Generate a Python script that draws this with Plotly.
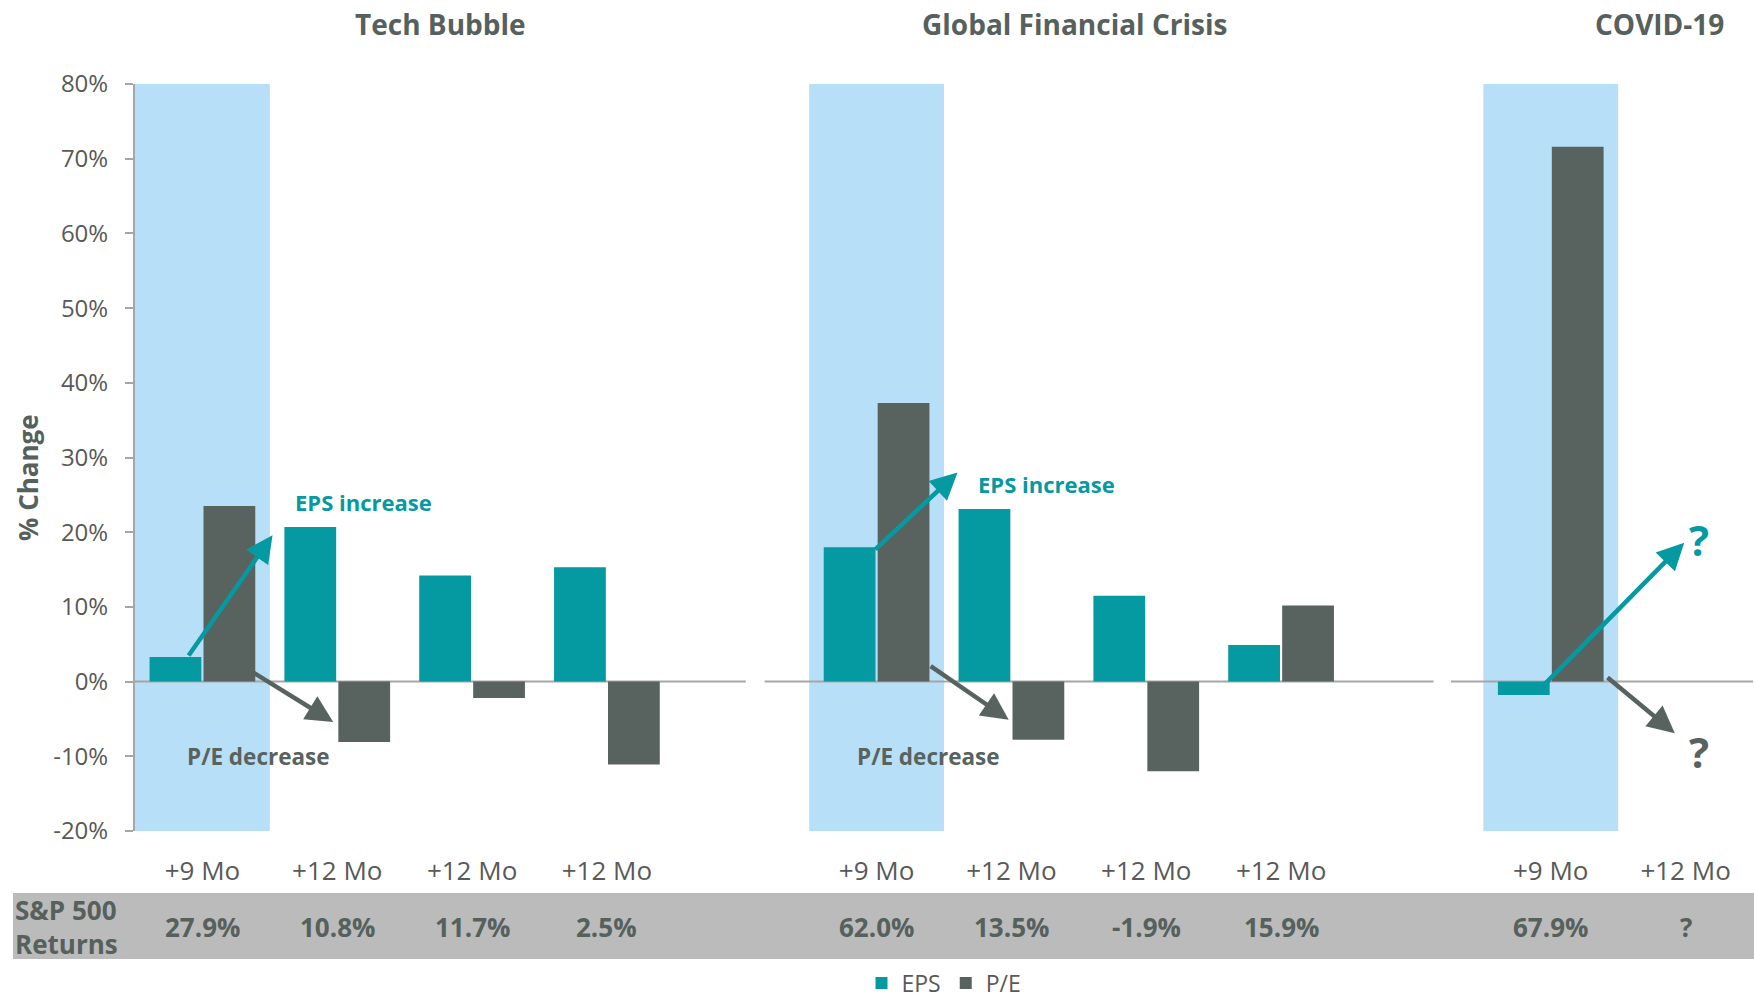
import plotly.graph_objects as go

# ---------------- data ----------------
panel_titles = ["Tech Bubble", "Global Financial Crisis", "COVID-19"]

tech_periods = ["+9 Mo", "+12 Mo", "+12 Mo", "+12 Mo"]
tech_eps = [3.3, 20.7, 14.2, 15.3]
tech_pe = [23.5, -8.1, -2.2, -11.1]
tech_sp500 = ["27.9%", "10.8%", "11.7%", "2.5%"]

gfc_periods = ["+9 Mo", "+12 Mo", "+12 Mo", "+12 Mo"]
gfc_eps = [18.0, 23.1, 11.5, 4.9]
gfc_pe = [37.3, -7.8, -12.0, 10.2]
gfc_sp500 = ["62.0%", "13.5%", "-1.9%", "15.9%"]

covid_periods = ["+9 Mo", "+12 Mo"]
covid_eps = [-1.8, None]
covid_pe = [71.6, None]
covid_sp500 = ["67.9%", "?"]

y_ticks = [-20, -10, 0, 10, 20, 30, 40, 50, 60, 70, 80]
y_tick_labels = [f"{v}%" for v in y_ticks]

# ---------------- styling ----------------
TEAL = "#0599a1"
DARK = "#58635f"
BAND = "#b8dff8"
AXIS = "#a6a6a6"
TXT = "#595959"
HEAD = "#56605d"
FONT = "Open Sans"

W, H = 1754, 1002
ML, MR, MT, MB = 135, 1, 84, 171


def py(ypix):
    return (H - MB - ypix) / (H - MT - MB)


def px(xpix):
    return (xpix - ML) / (W - ML - MR)


# build slot positions (one blank slot between panels)
panels = [
    (tech_periods, tech_eps, tech_pe, tech_sp500),
    (gfc_periods, gfc_eps, gfc_pe, gfc_sp500),
    (covid_periods, covid_eps, covid_pe, covid_sp500),
]
xs, labels, eps, pe, sp = [], [], [], [], []
first_slots = []
pos = 0
for periods, e, p, s in panels:
    first_slots.append(pos)
    for i in range(len(periods)):
        xs.append(pos + i)
        labels.append(periods[i])
        eps.append(e[i])
        pe.append(p[i])
        sp.append(s[i])
    pos += len(periods) + 1
n_slots = pos - 1

fig = go.Figure()
fig.add_trace(go.Bar(x=xs, y=eps, name="EPS", marker_color=TEAL, marker_line_width=0))
fig.add_trace(go.Bar(x=xs, y=pe, name="P/E", marker_color=DARK, marker_line_width=0))

shapes = []
# highlighted first period of each episode
for fs in first_slots:
    shapes.append(dict(type="rect", xref="x", yref="y", x0=fs - 0.5, x1=fs + 0.5,
                       y0=y_ticks[0], y1=y_ticks[-1], fillcolor=BAND, line_width=0,
                       layer="below"))
# zero line segments (separate for each panel)
zero_segments = [(-0.5, 4.03), (4.17, 9.13), (9.26, n_slots - 0.5)]
for a, b in zero_segments:
    shapes.append(dict(type="line", xref="x", yref="y", x0=a, x1=b, y0=0, y1=0,
                       line=dict(color=AXIS, width=2), layer="below"))
# S&P 500 returns band
shapes.append(dict(type="rect", xref="paper", yref="paper", x0=px(13), x1=px(W + 5),
                   y0=py(959), y1=py(893), fillcolor="#bbbbbb", line_width=0, layer="below"))

ann = []
# panel titles
title_x = [440, 1074, 1659]
for t, x in zip(panel_titles, title_x):
    ann.append(dict(text=f"<b>{t}</b>", xref="paper", yref="paper", x=px(x), y=py(24),
                    showarrow=False, xanchor="center", yanchor="middle",
                    font=dict(family=FONT, size=28, color=HEAD)))
# y axis title
ann.append(dict(text="<b>% Change</b>", xref="paper", yref="paper", x=px(28), y=py(478),
                textangle=-90, showarrow=False, xanchor="center", yanchor="middle",
                font=dict(family=FONT, size=26, color=HEAD)))
# S&P label
ann.append(dict(text="<b>S&amp;P 500<br>Returns</b>", xref="paper", yref="paper", x=px(13),
                y=py(927), showarrow=False, xanchor="left", yanchor="middle", align="left",
                font=dict(family=FONT, size=26, color=HEAD)))
for x, s in zip(xs, sp):
    ann.append(dict(text=f"<b>{s}</b>", xref="x", yref="paper", x=x, y=py(927),
                    showarrow=False, xanchor="center", yanchor="middle",
                    font=dict(family=FONT, size=26, color=HEAD)))


def arrow(x, y, ax, ay, color):
    return dict(text="", x=x, y=y, ax=ax, ay=ay, xref="x", yref="y", axref="x", ayref="y",
                showarrow=True, arrowhead=2, arrowsize=1.2, arrowwidth=4.5, arrowcolor=color,
                standoff=0, startstandoff=0)


# Tech bubble annotations
ann.append(arrow(0.52, 19.6, -0.11, 3.3, TEAL))
ann.append(arrow(0.97, -5.4, 0.37, 1.3, DARK))
ann.append(dict(text="<b>EPS increase</b>", x=0.67, y=24.0, xref="x", yref="y", showarrow=False,
                xanchor="left", yanchor="middle", font=dict(family=FONT, size=22, color=TEAL)))
ann.append(dict(text="<b>P/E decrease</b>", x=-0.13, y=-10.0, xref="x", yref="y", showarrow=False,
                xanchor="left", yanchor="middle", font=dict(family=FONT, size=22.5, color=DARK)))
# GFC annotations
ann.append(arrow(5.60, 28.0, 4.98, 17.5, TEAL))
ann.append(arrow(5.98, -5.1, 5.39, 2.2, DARK))
ann.append(dict(text="<b>EPS increase</b>", x=5.74, y=26.5, xref="x", yref="y", showarrow=False,
                xanchor="left", yanchor="middle", font=dict(family=FONT, size=22, color=TEAL)))
ann.append(dict(text="<b>P/E decrease</b>", x=4.84, y=-10.0, xref="x", yref="y", showarrow=False,
                xanchor="left", yanchor="middle", font=dict(family=FONT, size=22.5, color=DARK)))
# COVID annotations
ann.append(arrow(10.99, 18.6, 9.93, -0.8, TEAL))
ann.append(arrow(10.92, -6.9, 10.41, 0.7, DARK))
ann.append(dict(text="<b>?</b>", x=11.10, y=19.0, xref="x", yref="y", showarrow=False,
                xanchor="center", yanchor="middle", font=dict(family=FONT, size=42, color=TEAL)))
ann.append(dict(text="<b>?</b>", x=11.10, y=-9.4, xref="x", yref="y", showarrow=False,
                xanchor="center", yanchor="middle", font=dict(family=FONT, size=42, color=DARK)))

fig.update_layout(
    width=W, height=H,
    margin=dict(l=ML, r=MR, t=MT, b=MB, pad=0, autoexpand=False),
    plot_bgcolor="white", paper_bgcolor="white",
    barmode="group", bargap=0.2, bargroupgap=0.04,
    font=dict(family=FONT, color=TXT),
    shapes=shapes, annotations=ann,
    showlegend=True,
    legend=dict(orientation="h", x=0.5, xanchor="center", y=py(983), yanchor="middle",
                font=dict(family=FONT, size=23, color=TXT), traceorder="normal",
                itemwidth=30, bgcolor="rgba(0,0,0,0)", tracegroupgap=0),
    xaxis=dict(range=[-0.5, n_slots - 0.5], tickvals=xs, ticktext=labels, showgrid=False,
               zeroline=False, showline=False, ticks="outside", ticklen=17,
               tickcolor="rgba(0,0,0,0)", tickfont=dict(family=FONT, size=26, color=TXT),
               automargin=False),
    yaxis=dict(range=[y_ticks[0], y_ticks[-1]], tickvals=y_ticks, ticktext=y_tick_labels,
               showgrid=False, zeroline=False, showline=True, linecolor=AXIS, linewidth=2,
               ticks="outside", ticklen=8, tickcolor=AXIS, tickwidth=2, ticklabelstandoff=12,
               tickfont=dict(family=FONT, size=24, color=TXT), automargin=False),
)

fig.write_html("out.html", config={"displayModeBar": False},
               post_script="document.body.style.margin='0';document.body.style.overflow='hidden';")
